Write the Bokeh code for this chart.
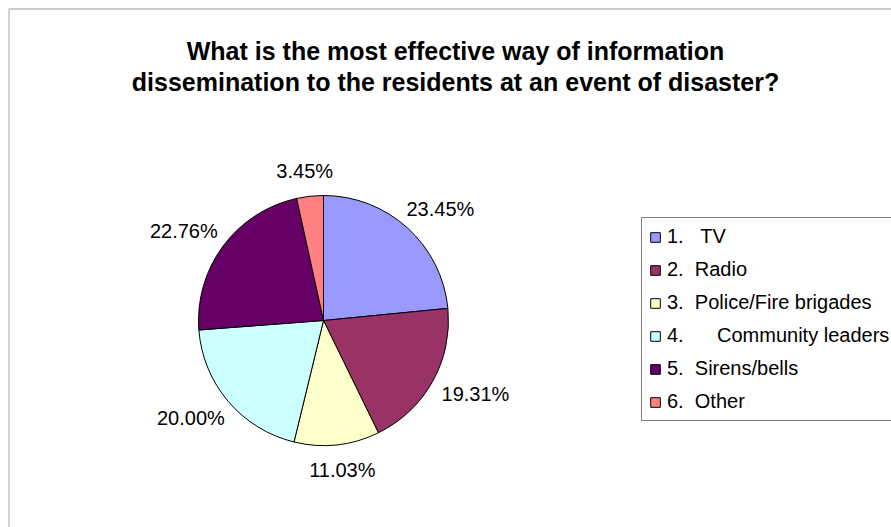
import numpy as np
from bokeh.plotting import figure
from bokeh.models import (ColumnDataSource, Range1d, Legend, LegendItem, Label, BoxAnnotation)
from bokeh.core.properties import value
from bokeh.embed import file_html
from bokeh.resources import INLINE

# ---- data ----
categories = ["1.\u00a0\u00a0\u00a0TV", "2.\u00a0\u00a0Radio", "3.\u00a0\u00a0Police/Fire brigades",
              "4.\u00a0\u00a0\u00a0\u00a0\u00a0\u00a0Community leaders", "5.\u00a0\u00a0Sirens/bells",
              "6.\u00a0\u00a0Other"]
shares = [23.45, 19.31, 11.03, 20.00, 22.76, 3.45]
colors = ["#9999FF", "#993366", "#FFFFCC", "#CCFFFF", "#660066", "#FF8080"]
title_lines = ["What is the most effective way of information",
               "dissemination to the residents at an event of disaster?"]

W, H = 891, 527
FONT = "Liberation Sans"

# layout (1 data unit = 1 pixel, y up)
cx, cy, R = 323, H - 320, 125

vals = np.array(shares, dtype=float)
frac = vals / vals.sum()
cum_end = np.cumsum(frac)
cum_start = cum_end - frac
start = np.pi / 2 - cum_start * 2 * np.pi
end = np.pi / 2 - cum_end * 2 * np.pi
mid = (cum_start + cum_end) / 2 * 2 * np.pi  # clockwise from top
ux, uy = np.sin(mid), np.cos(mid)
lx = cx + ux * 140 + ux * 34
ly = cy + uy * 140 + uy * 10
labels = [f"{v:.2f}%" for v in shares]

src = ColumnDataSource(dict(cat=categories, start=start, end=end, color=colors,
                            lx=lx, ly=ly, lab=labels))

p = figure(width=W, height=H, output_backend="svg", toolbar_location=None,
           x_range=Range1d(0, W), y_range=Range1d(0, H), min_border=0,
           outline_line_color=None, background_fill_color="white",
           border_fill_color="white")
p.xaxis.visible = False
p.yaxis.visible = False
p.grid.visible = False

# chart area border: only left and top edges fall inside the window
p.add_layout(BoxAnnotation(left=8.5, right=W + 50, bottom=-50, top=H - 8.5,
                           fill_alpha=0, line_color="#1a1a1a", line_width=1.3))

r = p.wedge(x=cx, y=cy, radius=R, start_angle="start", end_angle="end",
            direction="clock", fill_color="color", line_color="black",
            line_width=1, source=src)

p.text(x="lx", y="ly", text="lab", source=src, text_align="center",
       text_baseline="middle", text_font=value(FONT), text_font_size="20px",
       text_color="black")

# title
for i, t in enumerate(title_lines):
    p.add_layout(Label(x=455, y=H - 50 - i * 31, x_units="screen", y_units="screen",
                       text=t, text_align="center", text_baseline="alphabetic",
                       text_font=FONT, text_font_size="25px", text_font_style="bold",
                       text_color="black"))

items = [LegendItem(label=c, renderers=[r], index=i) for i, c in enumerate(categories)]
legend = Legend(items=items, location=(641, H - 421), orientation="vertical",
                label_text_font=FONT, label_text_font_size="20px", label_text_color="black",
                glyph_width=12, glyph_height=12, label_height=23, spacing=10,
                padding=7, margin=0, label_standoff=6,
                border_line_color="black", border_line_width=1,
                background_fill_color="white", background_fill_alpha=1.0)
p.add_layout(legend, "center")

open("out.html", "w").write(file_html(p, INLINE))
